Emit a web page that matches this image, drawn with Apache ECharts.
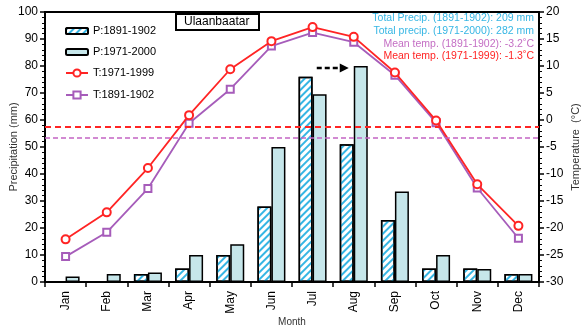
<!DOCTYPE html>
<html>
<head>
<meta charset="utf-8">
<script src="https://cdn.jsdelivr.net/npm/echarts@6/dist/echarts.min.js"></script>
<style>
html,body{margin:0;padding:0;background:#fff;}
#chart{width:581px;height:329px;}
</style>
</head>
<body>
<div id="chart"></div>
<script>
const months = ['Jan','Feb','Mar','Apr','May','Jun','Jul','Aug','Sep','Oct','Nov','Dec'];
const precip1891 = [0, 0, 3, 5, 10, 28, 76, 51, 23, 5, 5, 3];
const precip1971 = [2, 3, 3.5, 10, 14, 50, 69.5, 80, 33.5, 10, 4.8, 3];
const temp1971 = [-22.1, -17.1, -8.9, 0.9, 9.4, 14.6, 17.2, 15.4, 8.8, -0.1, -11.9, -19.6];
const temp1891 = [-25.3, -20.8, -12.7, -0.6, 5.7, 13.7, 16.2, 14.4, 8.3, -0.5, -12.6, -21.9];
const totalPrecip = [209, 282];      // 1891-1902, 1971-2000
const meanTemp = [-3.2, -1.3];       // 1891-1902, 1971-1999
const precipTicks = [0, 100, 10];
const tempTicks = [-30, 20, 5];

const FONT = 'Liberation Sans, Arial, sans-serif';
const RED = '#ff2424';
const PURPLE = '#a65cba';
const CYAN = '#36b6e4';
const SOLID = '#c6e6ea';

const chart = echarts.init(document.getElementById('chart'), null, {renderer: 'canvas'});

const option = {
  animation: false,
  backgroundColor: '#fff',
  textStyle: {fontFamily: FONT},
  title: {
    text: 'Ulaanbaatar',
    left: 176, top: 14,
    padding: [2, 10, 2, 8],
    borderWidth: 2, borderColor: '#000',
    textStyle: {fontSize: 12, fontWeight: 'normal', color: '#000', fontFamily: FONT}
  },
  legend: [
    {
      data: ['P:1891-1902', 'P:1971-2000'],
      orient: 'vertical', left: 65, top: 24, padding: 0,
      itemWidth: 22, itemHeight: 6, itemGap: 7,
      textStyle: {fontSize: 11, color: '#000', lineHeight: 14, fontFamily: FONT}
    },
    {
      data: ['T:1971-1999', 'T:1891-1902'],
      orient: 'vertical', left: 65, top: 66, padding: 0,
      itemWidth: 22, itemHeight: 9, itemGap: 8,
      textStyle: {fontSize: 11, color: '#000', lineHeight: 14, fontFamily: FONT}
    }
  ],
  grid: {left: 45, right: 42, top: 12, bottom: 47, outerBoundsMode: 'none', containLabel: false,
         show: true, borderColor: '#000', borderWidth: 2, backgroundColor: 'transparent'},
  xAxis: {
    type: 'category', data: months,
    axisLine: {lineStyle: {color: '#000', width: 2}},
    axisTick: {show: true, length: 5, lineStyle: {color: '#000', width: 1.5}},
    axisLabel: {rotate: 90, fontSize: 12, color: '#000', margin: 9},
    name: 'Month', nameLocation: 'middle', nameGap: 35, nameMoveOverlap: false,
    nameTextStyle: {fontSize: 10, color: '#333'}
  },
  yAxis: [
    {
      type: 'value', position: 'left',
      min: precipTicks[0], max: precipTicks[1], interval: precipTicks[2],
      axisLine: {show: true, lineStyle: {color: '#000', width: 2}},
      axisTick: {show: true, length: 5, lineStyle: {color: '#000', width: 1.5}},
      minorTick: {show: true, splitNumber: 5, length: 3, lineStyle: {color: '#000', width: 1}},
      splitLine: {show: false},
      axisLabel: {fontSize: 12, color: '#000', margin: 7},
      name: 'Precipitation (mm)', nameLocation: 'middle', nameGap: 26, nameRotate: 90, nameMoveOverlap: false,
      nameTextStyle: {fontSize: 11, color: '#333'}
    },
    {
      type: 'value', position: 'right',
      min: tempTicks[0], max: tempTicks[1], interval: tempTicks[2],
      axisLine: {show: true, lineStyle: {color: '#000', width: 2}},
      axisTick: {show: true, length: 5, lineStyle: {color: '#000', width: 1.5}},
      minorTick: {show: true, splitNumber: 5, length: 3, lineStyle: {color: '#000', width: 1}},
      splitLine: {show: false},
      axisLabel: {fontSize: 12, color: '#000', margin: 7},
      name: 'Temperature  (°C)', nameLocation: 'middle', nameGap: 31, nameRotate: 90, nameMoveOverlap: false,
      nameTextStyle: {fontSize: 11, color: '#333'}
    }
  ],
  series: [
    {
      name: 'P:1891-1902', type: 'bar', yAxisIndex: 0, data: precip1891,
      barWidth: 14, barGap: '0%',
      itemStyle: {
        color: '#ffffff', borderColor: '#000', borderWidth: 1.5,
        decal: {symbol: 'rect', symbolSize: 1, color: CYAN, dashArrayX: [1, 0], dashArrayY: [2, 2.5], rotation: -Math.PI / 4}
      }
    },
    {
      name: 'P:1971-2000', type: 'bar', yAxisIndex: 0, data: precip1971,
      barWidth: 14, barGap: '0%',
      itemStyle: {color: SOLID, borderColor: '#000', borderWidth: 1.5}
    },
    {
      name: 'T:1971-1999', type: 'line', yAxisIndex: 1, data: temp1971,
      color: RED, symbol: 'emptyCircle', symbolSize: 8,
      lineStyle: {color: RED, width: 1.8},
      itemStyle: {color: RED, borderWidth: 2},
      markLine: {
        silent: true, symbol: 'none', label: {show: false},
        lineStyle: {color: RED, width: 2, type: [6, 4]},
        data: [{yAxis: meanTemp[1]}]
      },
      z: 4
    },
    {
      name: 'T:1891-1902', type: 'line', yAxisIndex: 1, data: temp1891,
      color: PURPLE, symbol: 'emptyRect', symbolSize: 7,
      lineStyle: {color: PURPLE, width: 1.8},
      itemStyle: {color: PURPLE, borderWidth: 2},
      markLine: {
        silent: true, symbol: 'none', label: {show: false},
        lineStyle: {color: '#c464c4', width: 1.6, type: [5, 3]},
        data: [{yAxis: meanTemp[0]}]
      },
      z: 3
    }
  ]
};
chart.setOption(option);

// annotation texts and arrow
const info = [
  {t: 'Total Precip. (1891-1902): ' + totalPrecip[0] + ' mm', c: CYAN},
  {t: 'Total precip. (1971-2000): ' + totalPrecip[1] + ' mm', c: CYAN},
  {t: 'Mean temp. (1891-1902): ' + meanTemp[0] + '˚C', c: '#c46ec4'},
  {t: 'Mean temp. (1971-1999): ' + meanTemp[1] + '˚C', c: RED}
];
const graphics = info.map((d, i) => ({
  type: 'text', right: 47, top: 13 + i * 12.7,
  style: {text: d.t, fill: d.c, font: '10.5px ' + FONT, textAlign: 'right'}
}));
const augPt = chart.convertToPixel({seriesIndex: 1}, ['Aug', 79.3]);
const ax = augPt[0], ay = augPt[1];
graphics.push({
  type: 'line', shape: {x1: ax - 37, y1: ay, x2: ax - 12, y2: ay},
  style: {stroke: '#000', lineWidth: 2.5, lineDash: [5, 3]}
});
graphics.push({
  type: 'polygon', shape: {points: [[ax - 14, ay - 4.5], [ax - 5, ay], [ax - 14, ay + 4.5]]},
  style: {fill: '#000'}
});
chart.setOption({graphic: graphics});
</script>
</body>
</html>
